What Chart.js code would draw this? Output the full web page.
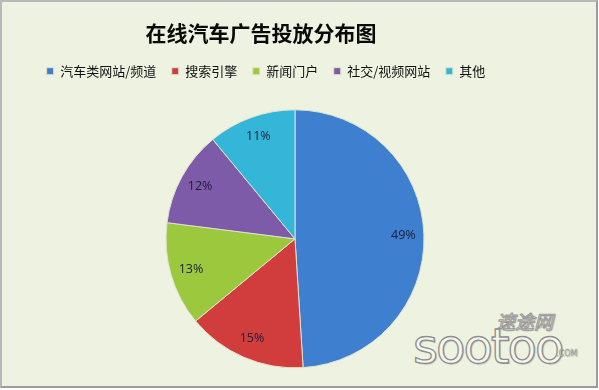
<!DOCTYPE html>
<html>
<head>
<meta charset="utf-8">
<script src="https://cdn.jsdelivr.net/npm/chart.js@4.4.0/dist/chart.umd.min.js"></script>
<style>
  html, body { margin: 0; padding: 0; background: #ffffff; }
  #wrap { position: relative; width: 599px; height: 390px; overflow: hidden; background: #ffffff; }
  #frame { position: absolute; left: 0; top: 0; width: 594px; height: 384px;
           background: #EEF2E0; border-left: 2px solid #B8B8B8; border-top: 2px solid #B8B8B8;
           border-right: 2px solid #9C9C9C; border-bottom: 2px solid #9C9C9C; }
  #c { position: absolute; left: 0; top: 0; }
  .wm { position: absolute; color: #F4F6EE; -webkit-text-stroke: 1px #9A9A9A;
        text-shadow: 1px 1px 1px rgba(0,0,0,0.25); white-space: nowrap; }
  #wm1 { left: 496px; top: 307px; font: italic 19px "Noto Sans CJK SC"; }
  #wm2 { left: 413px; top: 318px; font: 48px "DejaVu Sans"; letter-spacing: -2px; -webkit-text-stroke: 1.3px #8E8E8E; }
  #wm3 { left: 556px; top: 349px; font: 8px "DejaVu Sans"; -webkit-text-stroke: 0.5px #9A9A9A; }
</style>
</head>
<body>
<div id="wrap">
  <div id="frame"></div>
  <div class="wm" id="wm1">速途网</div>
  <div class="wm" id="wm2">sootoo</div>
  <div class="wm" id="wm3">.COM</div>
  <canvas id="c" width="599" height="390"></canvas>
</div>
<script>
const titleText = '在线汽车广告投放分布图';
const categories = ['汽车类网站/频道', '搜索引擎', '新闻门户', '社交/视频网站', '其他'];
const shares = [49, 15, 13, 12, 11];
const sliceColors = ['#3E7FCF', '#D13D3D', '#9CC83E', '#7E5BA8', '#34B6D8'];

const shiftPlugin = {
  id: 'shiftHeader',
  afterLayout(chart) {
    if (chart.titleBlock) { chart.titleBlock.left -= 34; chart.titleBlock.right -= 34; }
    if (chart.legend) { chart.legend.left -= 29; chart.legend.right -= 29; }
  }
};

const labelPlugin = {
  id: 'pctLabels',
  afterDatasetsDraw(chart) {
    const ctx = chart.ctx;
    const meta = chart.getDatasetMeta(0);
    ctx.save();
    ctx.font = '12.5px "Open Sans"';
    ctx.fillStyle = '#1A1E3A';
    ctx.textAlign = 'center';
    ctx.textBaseline = 'middle';
    meta.data.forEach((arc, i) => {
      const p = arc.getProps(['x', 'y', 'startAngle', 'endAngle', 'outerRadius'], true);
      const mid = (p.startAngle + p.endAngle) / 2;
      const r = p.outerRadius * 0.84;
      ctx.fillText(shares[i] + '%', p.x + Math.cos(mid) * r, p.y + Math.sin(mid) * r);
    });
    ctx.restore();
  }
};

new Chart(document.getElementById('c'), {
  type: 'pie',
  data: {
    labels: categories,
    datasets: [{
      data: shares,
      backgroundColor: sliceColors,
      borderColor: '#DDE3CC',
      borderWidth: 1,
      radius: 129
    }]
  },
  options: {
    responsive: false,
    animation: false,
    layout: { padding: { left: 0, right: 9, top: 0, bottom: 0 } },
    plugins: {
      title: {
        display: true,
        text: titleText,
        color: '#0A0A0A',
        font: { family: '"Noto Sans CJK SC"', size: 21, weight: 'bold', lineHeight: 1.2 },
        padding: { top: 20, bottom: 4 }
      },
      legend: {
        position: 'top',
        labels: {
          boxWidth: 7,
          boxHeight: 7,
          padding: 15.5,
          color: '#111111',
          font: { family: '"Noto Sans CJK SC"', size: 13 }
        }
      },
      tooltip: { enabled: false }
    }
  },
  plugins: [shiftPlugin, labelPlugin]
});
</script>
</body>
</html>
